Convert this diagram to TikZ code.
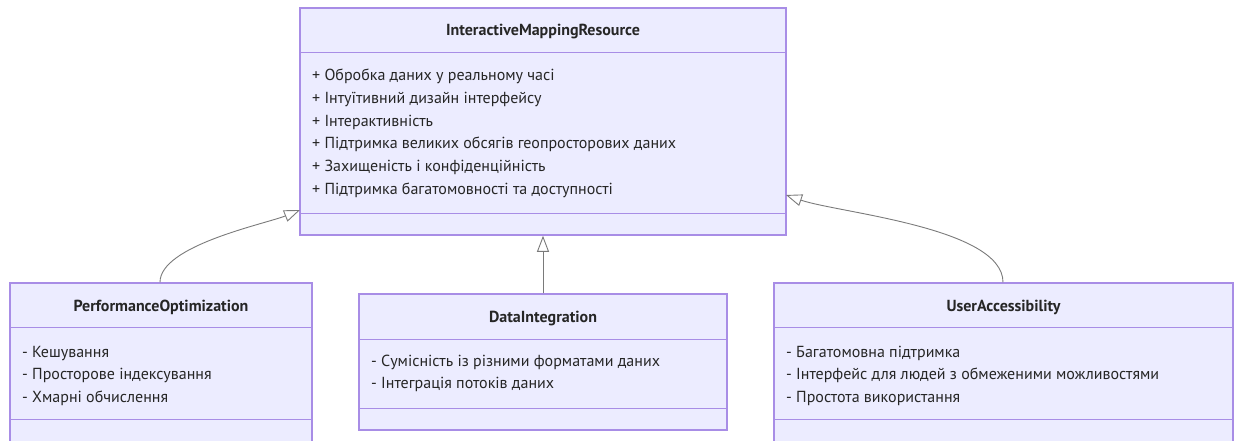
\documentclass[tikz,border=0pt]{standalone}
\usepackage{fontspec}
\setmainfont{PT Sans}
\usepackage{xcolor}
\usetikzlibrary{arrows.meta}

\definecolor{classfill}{HTML}{ECECFF}
\definecolor{classline}{HTML}{A88DE6}
\definecolor{edgeline}{HTML}{7A7A7A}

\tikzset{
  classbox/.style={draw=classline, fill=classfill, line width=1.5pt, inner sep=0pt},
  divider/.style={draw=classline, line width=1.3pt},
  classtitle/.style={font=\fontsize{16}{18}\selectfont\bfseries, anchor=base, inner sep=0pt, text=black!85},
  member/.style={font=\fontsize{16}{18}\selectfont, anchor=base west, inner sep=0pt, text=black!85},
  inherit/.style={draw=edgeline, line width=0.9pt, -{Triangle[open, length=16pt, width=12pt, fill=white]}}
}

\begin{document}
\begin{tikzpicture}[x=1pt,y=-1pt]
\useasboundingbox (0,0) rectangle (1235,441);

% class boxes
\node[classbox, minimum width=486pt, minimum height=227pt] (imr) at (543,121.5) {};
\node[classbox, minimum width=302pt, minimum height=164pt] (po) at (161,365) {};
\node[classbox, minimum width=368pt, minimum height=136pt] (di) at (543,362) {};
\node[classbox, minimum width=459pt, minimum height=164pt] (ua) at (1003.5,365) {};

% compartments
\draw[divider] ([yshift=-45pt]imr.north west) -- ([yshift=-45pt]imr.north east);
\draw[divider] ([yshift=22pt]imr.south west) -- ([yshift=22pt]imr.south east);
\draw[divider] ([yshift=-45pt]po.north west) -- ([yshift=-45pt]po.north east);
\draw[divider] ([yshift=-137pt]po.north west) -- ([yshift=-137pt]po.north east);
\draw[divider] ([yshift=-46pt]di.north west) -- ([yshift=-46pt]di.north east);
\draw[divider] ([yshift=22pt]di.south west) -- ([yshift=22pt]di.south east);
\draw[divider] ([yshift=-45pt]ua.north west) -- ([yshift=-45pt]ua.north east);
\draw[divider] ([yshift=-137pt]ua.north west) -- ([yshift=-137pt]ua.north east);

% titles
\node[classtitle] (imr-t) at (543,36) {InteractiveMappingResource};
\node[classtitle] (po-t) at (161,311) {PerformanceOptimization};
\node[classtitle] (di-t) at (543,322) {DataIntegration};
\node[classtitle] (ua-t) at (1003.5,311) {UserAccessibility};

% members
\foreach \txt [count=\i] in {Обробка даних у реальному часі,
    Інтуїтивний дизайн інтерфейсу,
    Інтерактивність,
    Підтримка великих обсягів геопросторових даних,
    Захищеність і конфіденційність,
    Підтримка багатомовності та доступності}
  \node[member] (imr-\i) at (312,58.4+22.6*\i) {+ \txt};

\foreach \txt [count=\i] in {Кешування, Просторове індексування, Хмарні обчислення}
  \node[member] (po-\i) at (22,334.4+22.6*\i) {- \txt};

\foreach \txt [count=\i] in {Сумісність із різними форматами даних, Інтеграція потоків даних}
  \node[member] (di-\i) at (371,343.4+22.6*\i) {- \txt};

\foreach \txt [count=\i] in {Багатомовна підтримка,
    Інтерфейс для людей з обмеженими можливостями,
    Простота використання}
  \node[member] (ua-\i) at (786,334.4+22.6*\i) {- \txt};

% inheritance
\coordinate (imr-l) at (300,210);
\coordinate (imr-r) at (786,195);
\draw[inherit] ([xshift=-1pt]po.north) to[out=90, in=202, looseness=0.6] (imr-l);
\draw[inherit] (di.north) -- (imr.south);
\draw[inherit] ([xshift=-0.5pt]ua.north) to[out=90, in=-19, looseness=0.6] (imr-r);
\end{tikzpicture}
\end{document}
